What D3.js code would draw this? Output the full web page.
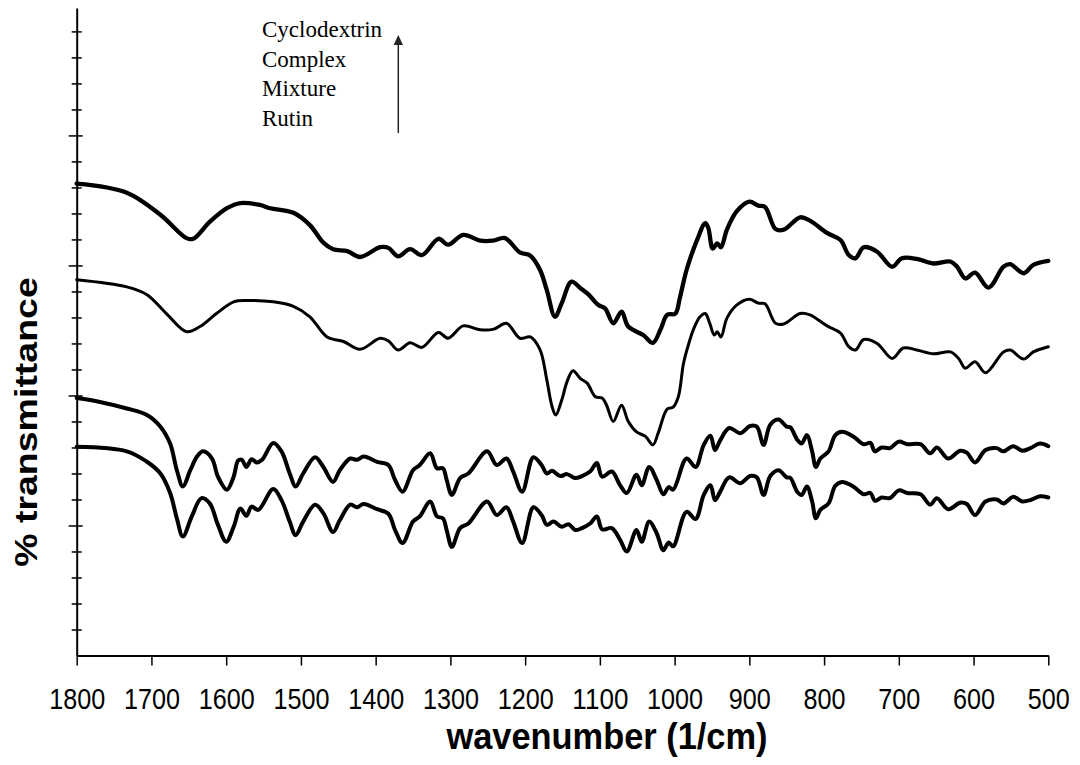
<!DOCTYPE html>
<html>
<head>
<meta charset="utf-8">
<script src="https://cdn.jsdelivr.net/npm/d3@7/dist/d3.min.js"></script>
<style>
  html, body { margin: 0; padding: 0; background: #fff; }
  svg { display: block; }
</style>
</head>
<body>
<svg id="chart" width="1080" height="765"></svg>
<script>
// FTIR spectra, [wavenumber (1/cm), % transmittance (offset for stacking)]
const cyclodextrin = [
  [1800,72.6],[1733,71.2],[1688,67.8],[1653,64.2],[1644,64.1],[1622,66.7],[1599,68.8],[1581,69.6],
  [1555,69.3],[1541,68.8],[1510,68.1],[1488,66.2],[1470,63.5],[1457,62.5],[1438,62.2],[1421,61.3],
  [1394,62.8],[1383,62.7],[1370,61.4],[1354,62.5],[1338,61.6],[1316,64.1],[1303,63.2],[1283,64.7],
  [1260,63.8],[1243,63.8],[1227,64.2],[1207,62.0],[1193,61.5],[1180,59.3],[1171,56.2],[1160,52.1],
  [1151,54.2],[1138,57.5],[1126,56.5],[1115,55.5],[1102,53.9],[1093,53.4],[1082,51.1],[1071,52.9],
  [1062,50.6],[1042,49.3],[1029,48.1],[1019,50.1],[1010,52.4],[999,52.6],[993,55.0],[984,59.3],
  [970,63.9],[959,66.5],[955,65.8],[949,62.6],[943,63.4],[938,62.8],[930,65.5],[917,68.3],
  [900,69.8],[888,69.2],[879,69.0],[865,65.6],[854,65.5],[832,67.4],[819,66.9],[796,65.0],
  [778,63.9],[767,61.6],[758,61.1],[747,62.8],[729,62.1],[709,59.8],[696,61.1],[676,61.0],
  [654,60.3],[631,60.6],[622,59.8],[611,58.0],[598,58.9],[580,56.6],[560,59.8],[551,60.2],
  [533,58.8],[520,60.1],[500,60.7]
];

const complex = [
  [1800,57.8],[1733,56.7],[1706,55.5],[1680,52.6],[1653,49.8],[1635,50.6],[1613,52.6],[1590,54.4],
  [1572,54.6],[1537,54.4],[1510,53.7],[1488,52.1],[1465,49.0],[1443,48.3],[1421,47.1],[1394,48.8],
  [1383,48.4],[1370,47.0],[1354,48.1],[1338,47.4],[1316,49.7],[1303,48.8],[1283,50.7],[1260,50.1],
  [1242,50.2],[1225,51.1],[1207,48.8],[1193,49.0],[1180,47.0],[1171,42.4],[1164,38.3],[1159,37.0],
  [1151,39.3],[1144,42.1],[1136,43.8],[1126,42.6],[1117,41.9],[1106,39.8],[1097,39.6],[1091,38.5],
  [1082,36.0],[1071,38.5],[1062,36.0],[1051,34.4],[1039,33.7],[1029,32.4],[1022,34.2],[1010,37.9],
  [1002,38.2],[995,39.8],[988,45.0],[981,48.0],[975,50.1],[966,52.1],[959,52.6],[953,51.1],
  [947,49.3],[943,49.8],[938,49.0],[930,51.9],[917,53.9],[900,54.8],[888,54.2],[879,54.1],
  [865,51.1],[854,51.0],[832,52.6],[819,52.4],[796,50.7],[778,49.6],[767,47.5],[758,47.0],
  [747,48.6],[729,48.0],[709,45.7],[694,47.3],[676,47.0],[654,46.4],[631,46.7],[620,45.7],
  [611,44.2],[598,45.2],[584,43.5],[560,46.7],[551,47.0],[533,45.6],[520,46.7],[500,47.5]
];

const mixture = [
  [1800,39.6],[1769,39.0],[1733,38.0],[1706,37.0],[1688,35.2],[1675,32.6],[1666,28.5],[1658,26.0],
  [1648,28.5],[1639,30.6],[1631,31.4],[1619,30.3],[1611,27.5],[1599,25.5],[1590,27.5],[1584,30.0],
  [1579,30.1],[1573,29.0],[1566,30.2],[1559,29.7],[1552,30.1],[1537,32.7],[1526,31.4],[1515,28.0],
  [1507,26.0],[1497,28.0],[1481,30.5],[1470,29.0],[1457,26.7],[1448,28.5],[1434,30.3],[1425,30.1],
  [1416,30.6],[1398,29.8],[1383,29.3],[1374,27.0],[1364,25.2],[1350,28.5],[1341,29.3],[1327,31.1],
  [1318,28.8],[1310,28.8],[1305,27.0],[1298,24.7],[1287,27.3],[1276,28.0],[1251,31.4],[1238,29.3],
  [1225,30.3],[1216,28.3],[1204,25.2],[1189,30.5],[1178,29.3],[1171,28.0],[1164,28.4],[1153,27.6],
  [1144,27.9],[1133,27.3],[1124,27.6],[1113,28.3],[1104,29.6],[1097,27.5],[1084,28.3],[1073,26.2],
  [1064,25.0],[1051,27.8],[1044,26.2],[1034,29.0],[1024,27.0],[1015,24.8],[1008,25.9],[1002,25.5],
  [984,30.3],[972,29.0],[961,32.4],[952,33.8],[946,31.6],[939,33.1],[927,35.0],[912,34.2],
  [899,35.3],[890,35.2],[881,32.4],[872,35.5],[861,36.3],[850,35.2],[845,35.1],[836,33.2],
  [830,32.6],[823,33.9],[816,31.4],[811,29.0],[805,30.3],[794,31.4],[785,33.9],[776,34.4],
  [761,33.7],[747,32.5],[738,32.7],[732,31.4],[723,32.0],[712,31.9],[700,32.9],[689,32.5],
  [671,32.5],[658,31.1],[649,32.0],[634,30.3],[618,31.5],[609,31.2],[598,29.7],[584,31.6],
  [569,31.9],[560,31.4],[547,32.2],[535,31.5],[524,31.9],[511,32.6],[500,32.2]
];

const rutin = [
  [1800,32.1],[1733,31.4],[1706,29.8],[1688,28.0],[1675,25.0],[1666,21.1],[1658,18.3],[1646,21.4],
  [1633,24.2],[1622,23.4],[1611,20.1],[1600,17.5],[1590,19.8],[1581,22.6],[1573,21.5],[1566,22.9],
  [1557,22.4],[1537,25.6],[1526,23.9],[1515,20.6],[1507,18.5],[1497,20.6],[1481,23.2],[1470,21.9],
  [1457,19.0],[1448,20.8],[1434,23.2],[1425,22.8],[1416,23.3],[1398,22.5],[1383,21.8],[1374,19.3],
  [1364,17.3],[1350,20.6],[1341,21.4],[1327,23.7],[1318,21.4],[1310,21.1],[1305,19.3],[1298,16.7],
  [1287,19.6],[1276,20.3],[1251,23.7],[1238,21.6],[1225,22.8],[1216,20.6],[1204,17.3],[1189,22.8],
  [1178,21.6],[1171,20.1],[1162,20.6],[1151,19.8],[1142,20.2],[1133,19.3],[1124,19.6],[1113,20.3],
  [1104,21.4],[1097,19.4],[1084,19.6],[1073,17.8],[1064,16.0],[1051,19.3],[1044,17.5],[1034,20.6],
  [1024,18.8],[1015,16.2],[1008,17.4],[1002,16.8],[984,22.1],[972,21.0],[961,24.7],[952,26.2],
  [946,23.9],[939,25.2],[927,27.4],[912,26.5],[899,27.6],[890,27.4],[881,24.7],[872,27.6],
  [861,28.5],[850,27.4],[845,27.3],[836,25.2],[830,24.7],[823,26.0],[816,23.7],[811,21.1],
  [805,22.4],[794,23.4],[785,26.1],[776,26.7],[761,26.0],[747,24.8],[738,25.0],[732,23.8],
  [723,24.3],[712,24.2],[700,25.4],[689,25.0],[671,24.8],[658,23.2],[649,24.2],[634,22.5],
  [618,23.5],[609,23.3],[598,21.6],[584,23.7],[569,24.0],[560,23.4],[547,24.4],[535,23.7],
  [524,23.9],[511,24.5],[500,24.3]
];

// series drawn top to bottom, with their stroke weights
const seriesNames = ["Cyclodextrin", "Complex", "Mixture", "Rutin"];
const seriesData = [cyclodextrin, complex, mixture, rutin];
const seriesWidths = [4.3, 3, 4, 4];

const xTicks = d3.range(1800, 499, -100);
const yMinorTicks = d3.range(4, 99, 4);
const yMajorTicks = [20, 40, 60, 80];

const svg = d3.select("#chart");
const plotLeft = 76.7, plotRight = 1048.3, plotTop = 8, plotBottom = 655.5;

const x = d3.scaleLinear().domain([1800, 500]).range([plotLeft, plotRight]);
const y = d3.scaleLinear().domain([0, 99.6]).range([plotBottom, plotTop]);

svg.append("rect").attr("width", 1080).attr("height", 765).attr("fill", "#fff");

// x axis
const gx = svg.append("g")
  .attr("transform", `translate(0,${plotBottom})`)
  .call(d3.axisBottom(x).tickValues(xTicks).tickSize(10).tickSizeOuter(0).tickFormat(d3.format("d")));
gx.select(".domain").attr("stroke", "#000").attr("stroke-width", 2);
gx.selectAll(".tick line").attr("stroke", "#000").attr("stroke-width", 1.5);
gx.selectAll(".tick text")
  .attr("y", 53).attr("dy", 0)
  .attr("fill", "#000")
  .style("font-family", "'Liberation Sans', Arial, sans-serif")
  .style("font-size", "29px")
  .attr("textLength", d => String(d).length === 4 ? 56 : 42)
  .attr("lengthAdjust", "spacingAndGlyphs");

// y axis: unlabeled ticks crossing the axis line
const gy = svg.append("g")
  .attr("transform", `translate(${plotLeft},0)`)
  .call(d3.axisLeft(y).tickValues(yMinorTicks).tickSizeOuter(0).tickFormat(""));
gy.select(".domain").attr("stroke", "#000").attr("stroke-width", 2);
gy.selectAll(".tick line")
  .attr("stroke", "#000").attr("stroke-width", 1.5)
  .attr("x1", d => yMajorTicks.includes(d) ? 6 : 5)
  .attr("x2", d => yMajorTicks.includes(d) ? -8 : -5);

// spectra
const line = d3.line()
  .x(d => x(d[0]))
  .y(d => y(d[1]))
  .curve(d3.curveCatmullRom.alpha(0.5));

svg.append("g").selectAll("path")
  .data(seriesData)
  .join("path")
  .attr("d", line)
  .attr("fill", "none")
  .attr("stroke", "#000")
  .attr("stroke-linejoin", "round")
  .attr("stroke-linecap", "round")
  .attr("stroke-width", (d, i) => seriesWidths[i]);

// sample order key with arrow
const key = svg.append("g");
key.selectAll("text")
  .data(seriesNames)
  .join("text")
  .attr("x", 262)
  .attr("y", (d, i) => 37 + i * 29.5)
  .attr("fill", "#000")
  .style("font-family", "'Liberation Serif', 'Times New Roman', serif")
  .style("font-size", "23px")
  .text(d => d);
key.append("line")
  .attr("x1", 398.3).attr("x2", 398.3)
  .attr("y1", 133).attr("y2", 44)
  .attr("stroke", "#222").attr("stroke-width", 1.5);
key.append("path")
  .attr("d", "M398.3,35 L393.6,45 L403,45 Z")
  .attr("fill", "#222");

// axis titles
svg.append("text")
  .attr("x", 607).attr("y", 749)
  .attr("text-anchor", "middle")
  .attr("textLength", 321)
  .attr("lengthAdjust", "spacingAndGlyphs")
  .style("font-family", "'Liberation Sans', Arial, sans-serif")
  .style("font-weight", "bold")
  .style("font-size", "37px")
  .text("wavenumber (1/cm)");

svg.append("text")
  .attr("transform", "translate(37,422) scale(0.86,1) rotate(-90)")
  .attr("text-anchor", "middle")
  .style("font-family", "'Liberation Sans', Arial, sans-serif")
  .style("font-weight", "bold")
  .style("font-size", "37.5px")
  .text("% transmittance");
</script>
</body>
</html>
